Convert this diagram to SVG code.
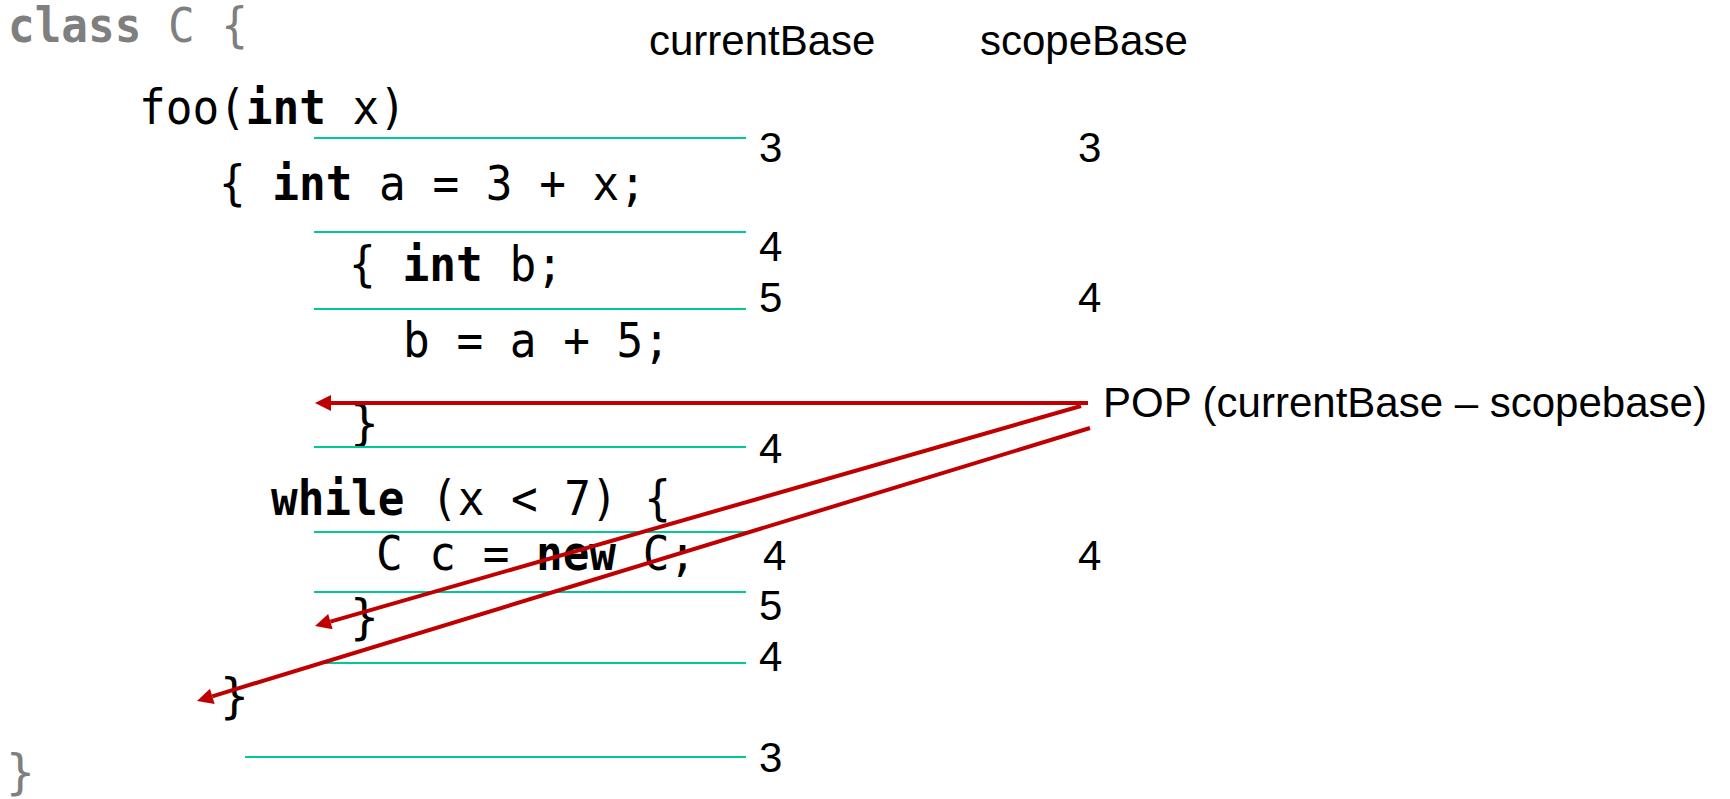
<svg xmlns="http://www.w3.org/2000/svg" width="1730" height="799" viewBox="0 0 1730 799">
  <style>
    .code { font-family: "DejaVu Sans Mono", monospace; font-size: 48px; fill: #000; }
    .dim { fill: #7f7f7f; }
    .kw { font-weight: bold; }
    .lbl { font-family: "Liberation Sans", Arial, sans-serif; font-size: 42px; fill: #000; }
    .sep { stroke: #00c896; stroke-width: 2; fill: none; }
    .pop { stroke: #c00000; stroke-width: 4; fill: none; marker-end: url(#head); }
  </style>
  <defs>
    <!-- filled triangle; the line stops at its base -->
    <marker id="head" markerUnits="userSpaceOnUse" markerWidth="16" markerHeight="16" refX="0" refY="8" orient="auto" overflow="visible">
      <path d="M0,0 L16,8 L0,16 Z" fill="#c00000"/>
    </marker>
  </defs>
  <rect width="1730" height="799" fill="#fff"/>

  <!-- source listing -->
  <g id="code">
    <text class="code dim" x="8" y="42" textLength="240" lengthAdjust="spacingAndGlyphs"><tspan class="kw">class</tspan> C {</text>
    <text class="code" x="139" y="124" textLength="267" lengthAdjust="spacingAndGlyphs">foo(<tspan class="kw">int</tspan> x)</text>
    <text class="code" x="219" y="200" textLength="427" lengthAdjust="spacingAndGlyphs">{ <tspan class="kw">int</tspan> a = 3 + x;</text>
    <text class="code" x="349" y="281" textLength="214" lengthAdjust="spacingAndGlyphs">{ <tspan class="kw">int</tspan> b;</text>
    <text class="code" x="403" y="357" textLength="267" lengthAdjust="spacingAndGlyphs">b = a + 5;</text>
    <text class="code" x="350" y="440">}</text>
    <text class="code" x="271" y="515" textLength="400" lengthAdjust="spacingAndGlyphs"><tspan class="kw">while</tspan> (x &lt; 7) {</text>
    <text class="code" x="376" y="570" textLength="320" lengthAdjust="spacingAndGlyphs">C c = <tspan class="kw">new</tspan> C;</text>
    <text class="code" x="350" y="634">}</text>
    <text class="code" x="220" y="713">}</text>
    <text class="code dim" x="6" y="789">}</text>
  </g>

  <!-- scope boundaries -->
  <g id="boundaries">
    <line class="sep" x1="314" y1="138" x2="746" y2="138"/>
    <line class="sep" x1="314" y1="232" x2="746" y2="232"/>
    <line class="sep" x1="314" y1="309" x2="746" y2="309"/>
    <line class="sep" x1="314" y1="447" x2="746" y2="447"/>
    <line class="sep" x1="314" y1="532" x2="746" y2="532"/>
    <line class="sep" x1="314" y1="592" x2="746" y2="592"/>
    <line class="sep" x1="320" y1="663" x2="746" y2="663"/>
    <line class="sep" x1="245" y1="757" x2="746" y2="757"/>
  </g>

  <!-- column headers -->
  <g id="headers">
    <text class="lbl" x="649" y="55">currentBase</text>
    <text class="lbl" x="980" y="55">scopeBase</text>
  </g>

  <!-- currentBase values -->
  <g id="current-values">
    <text class="lbl" x="759" y="162">3</text>
    <text class="lbl" x="759" y="261">4</text>
    <text class="lbl" x="759" y="312">5</text>
    <text class="lbl" x="759" y="463">4</text>
    <text class="lbl" x="763" y="570">4</text>
    <text class="lbl" x="759" y="620">5</text>
    <text class="lbl" x="759" y="671">4</text>
    <text class="lbl" x="759" y="772">3</text>
  </g>

  <!-- scopeBase values -->
  <g id="scope-values">
    <text class="lbl" x="1078" y="162">3</text>
    <text class="lbl" x="1078" y="312">4</text>
    <text class="lbl" x="1078" y="570">4</text>
  </g>

  <g id="pop-label">
    <text class="lbl" x="1103" y="417">POP (currentBase – scopebase)</text>
  </g>

  <!-- pop connectors -->
  <g id="connectors">
    <line class="pop" x1="1088" y1="403" x2="331" y2="403"/>
    <line class="pop" x1="1081" y1="406" x2="330.4" y2="621.6"/>
    <line class="pop" x1="1090" y1="428" x2="212.3" y2="696.3"/>
  </g>
</svg>
